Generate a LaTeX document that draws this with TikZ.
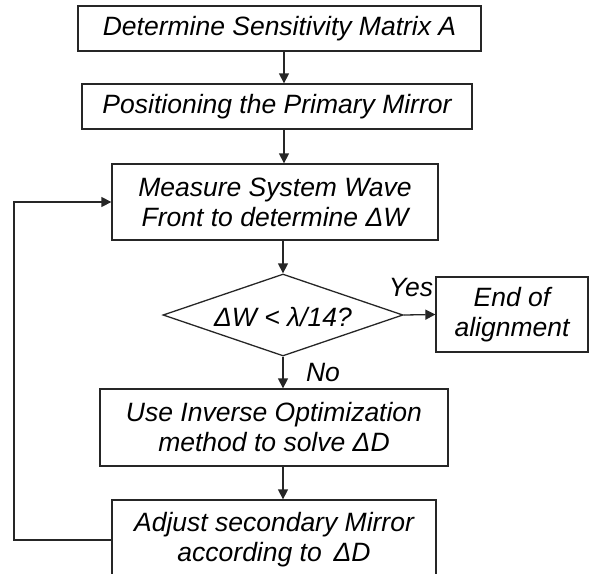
\documentclass[tikz,border=0pt]{standalone}
\usepackage{fontspec}
\setmainfont{Liberation Sans}
\usetikzlibrary{arrows.meta,shapes.geometric}
\begin{document}
\begin{tikzpicture}[x=1pt,y=-1pt,
  every node/.style={font=\fontsize{26.5}{30}\selectfont\itshape},
  box/.style={draw=black!85, line width=1.3pt, inner sep=0pt, align=center},
  dec/.style={draw=black!85, line width=1.3pt, diamond, inner sep=0pt, minimum width=240pt, minimum height=82pt},
  lbl/.style={inner sep=0pt},
  arr/.style={draw=black!85, line width=1.3pt, -{Triangle[length=10pt,width=10pt]}},
  lin/.style={draw=black!85, line width=1.3pt}]
\useasboundingbox (0,0) rectangle (589,573);
\coordinate (ax) at (284,0);
\coordinate (lx) at (14,0);
\node[box, minimum width=403pt, minimum height=45pt] (b1) at (279.5,28.5) {Determine Sensitivity Matrix A};
\node[box, minimum width=390pt, minimum height=45pt] (b2) at (277,106.5) {Positioning the Primary Mirror};
\node[box, minimum width=326pt, minimum height=76pt] (b3) at (275,202) {Measure System Wave\\Front to determine ΔW};
\node[dec] (d) at (283,315) {};
\node[lbl] (dt) at (283,317) {ΔW < λ/14?};
\node[box, minimum width=152pt, minimum height=75pt] (e) at (512,314.5) {End of\\alignment};
\node[box, minimum width=348pt, minimum height=77pt] (b4) at (274,427.5) {Use Inverse Optimization\\method to solve ΔD};
\node[box, minimum width=324pt, minimum height=80pt] (b5) at (274,540) {Adjust secondary Mirror\\according to\, ΔD};
\node[lbl] (yes) at (411,288) {Yes};
\node[lbl] (no) at (323,373) {No};
\draw[arr] (b1.south -| ax) -- (b2.north -| ax);
\draw[arr] (b2.south -| ax) -- (b3.north -| ax);
\draw[arr] (b3.south -| d.north) -- (d.north);
\draw[arr] (d.east) -- (e.west);
\draw[arr] (d.south) -- (b4.north -| d.south);
\draw[arr] (b4.south -| d.south) -- (b5.north -| d.south);
\draw[arr] (b5.west) -- (b5.west -| lx) |- (b3.west);
\end{tikzpicture}
\end{document}
